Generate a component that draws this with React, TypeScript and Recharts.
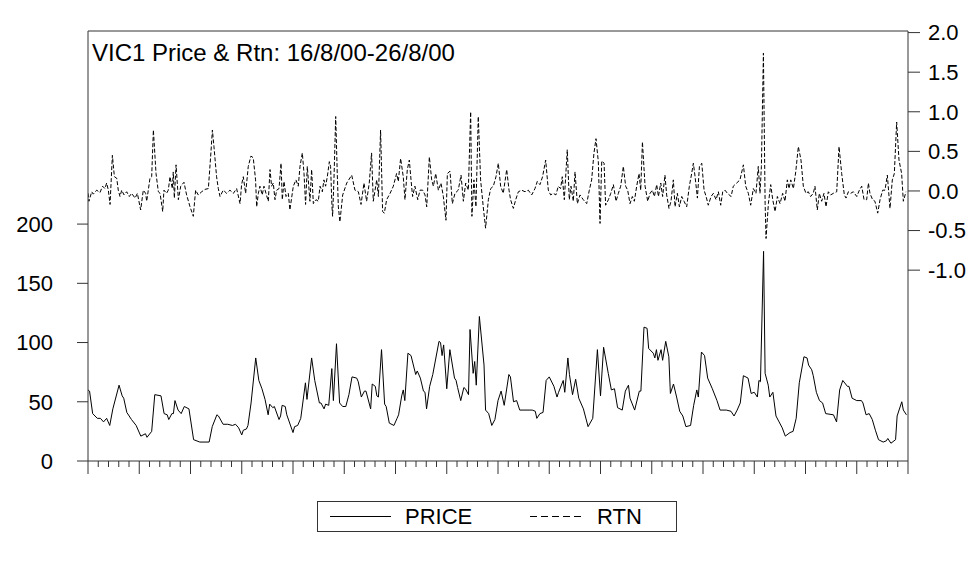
import { LineChart, Line, XAxis, YAxis, ReferenceLine } from 'recharts';

// half-hourly periods, 16/8/00 - 26/8/00
const N_PERIODS = 528;

const PRICE_T = [
  0, 1, 3, 6, 8, 10, 12, 14, 16, 20, 22, 23, 25, 28, 31, 34, 37, 38, 41, 43, 47, 49, 51, 52, 54, 55, 56, 58, 60, 62,
  65, 68, 72, 78, 80, 83, 84, 87, 90, 93, 95, 97, 99, 100, 102, 103, 105, 108, 110, 112, 114, 116, 117, 119, 120,
  123, 124, 125, 127, 128, 132, 133, 135, 137, 140, 141, 144, 146, 149, 150, 152, 153, 155, 157, 158, 160, 162, 164,
  166, 168, 170, 173, 174, 176, 178, 179, 182, 183, 185, 186, 187, 189, 191, 192, 194, 197, 199, 200, 202, 203, 204,
  206, 208, 211, 212, 214, 216, 217, 218, 220, 222, 226, 227, 228, 229, 231, 233, 236, 237, 238, 240, 242, 243, 245,
  246, 248, 249, 250, 252, 255, 256, 258, 260, 262, 264, 266, 268, 271, 272, 274, 276, 278, 284, 286, 288, 289, 291,
  293, 295, 297, 300, 302, 303, 306, 307, 309, 310, 312, 314, 316, 319, 322, 325, 328, 330, 332, 335, 337, 339, 341,
  344, 346, 348, 349, 352, 355, 356, 358, 360, 361, 364, 365, 366, 367, 369, 370, 372, 374, 375, 377, 379, 381, 383,
  385, 388, 390, 392, 393, 395, 397, 399, 402, 405, 407, 411, 414, 416, 418, 420, 422, 425, 427, 429, 431, 432, 433,
  435, 436, 438, 439, 441, 443, 445, 447, 449, 452, 454, 456, 458, 461, 463, 464, 466, 467, 469, 471, 473, 475, 480,
  482, 484, 486, 489, 490, 492, 495, 498, 499, 501, 503, 505, 507, 509, 512, 514, 515, 517, 520, 521, 524, 525, 527,
];

const PRICE = [
  60, 59, 40, 36, 36, 33, 36, 30, 44, 64, 55, 53, 41, 35, 30, 21, 23, 20, 25, 56, 55, 40, 39, 35, 40, 40, 51, 43, 40, 46,
  44, 18, 16, 16, 29, 39, 38, 31, 31, 30, 31, 28, 22, 26, 27, 30, 49, 87, 68, 61, 52, 39, 48, 45, 46,
  35, 38, 47, 46, 39, 24, 29, 30, 36, 66, 52, 87, 68, 49, 49, 44, 48, 47, 78, 51, 99, 49, 46,
  46, 56, 71, 70, 67, 54, 59, 59, 44, 65, 63, 55, 54, 94, 48, 46, 32, 30, 36, 39, 55, 60, 51,
  91, 89, 73, 76, 70, 59, 58, 44, 63, 73, 101, 100, 89, 98, 61, 94, 70, 68, 62, 51, 62, 61, 56,
  111, 74, 84, 64, 122, 81, 43, 40, 30, 35, 51, 59, 47, 73, 71, 50, 51, 43, 43, 43, 42, 36, 40,
  41, 68, 71, 63, 54, 58, 68, 58, 87, 73, 56, 69, 53, 44, 29, 36, 94, 55, 96, 74, 60, 61, 45,
  43, 59, 64, 53, 43, 59, 59, 113, 112, 95, 91, 87, 94, 85, 94, 85, 101, 88, 57, 65, 54, 42, 38,
  29, 30, 47, 60, 54, 92, 89, 70, 61, 51, 43, 43, 42, 38, 43, 49, 72, 70, 57, 58, 54, 68, 67,
  177, 74, 64, 54, 58, 38, 33, 28, 21, 24, 25, 36, 66, 88, 87, 81, 77, 72, 58, 51, 49, 40, 39,
  33, 60, 68, 63, 63, 53, 51, 51, 49, 39, 40, 35, 26, 18, 16, 17, 19, 15, 18, 38, 50, 43, 39,
];

const RTN_T = [
  0, 0.6, 2.4, 3.4, 5.6, 7.7, 9.4, 10.9, 12, 13.1, 14.2, 15.7, 17, 18.5, 19.5, 20.6, 21.7, 23.2, 24.9, 26.6, 28.1,
  30.3, 31.8, 33.9, 35.6, 37.1, 37.8, 39.9, 41, 42.1, 43.8, 45.3, 46.4, 48.1, 48.9, 50.6, 51.7, 52.8, 54.3, 54.9,
  55.6, 56.7, 58.2, 59.7, 61.8, 63.5, 65.7, 67.8, 69.3, 71, 73.2, 75.3, 77.5, 79.2, 80.1, 81.1, 82.8, 83.9, 85,
  87.1, 89.3, 91.4, 93.6, 95.7, 97.9, 98.9, 100, 101.5, 103.2, 104.9, 106.4, 107.9, 108.6, 109.7, 110.7, 112.2,
  113.3, 114.6, 116.1, 117.2, 118.2, 119.3, 120.4, 121.5, 123, 124.3, 125.1, 126.2, 127.5, 129, 130, 132.2, 133.9,
  135.4, 136.5, 138, 139.1, 140.1, 141.2, 142.9, 144, 145.1, 146.8, 148.3, 149.4, 150.9, 151.9, 153, 154.1, 155.4,
  156.2, 157.1, 157.5, 158.4, 159.5, 160.5, 161.2, 162.2, 164, 166.6, 169.8, 171.9, 174.1, 175.8, 177.7, 179.4,
  181.1, 182.6, 183.7, 185.9, 187, 188.4, 189.7, 190.8, 192.3, 194.5, 196.6, 198.7, 199.8, 201.3, 203, 204.1,
  205.6, 206.9, 208, 209, 210.5, 212.3, 213.8, 215.5, 217, 218.1, 219.8, 221.3, 222.4, 223.9, 225.6, 227.3, 228.8,
  230.5, 231.4, 233.1, 234.6, 236.3, 238.4, 240.2, 241.7, 243.2, 244.9, 246.4, 247.2, 248.5, 249.8, 251.3, 252.8,
  254.5, 256, 257.8, 259.3, 261, 262.7, 264.2, 265.7, 267.4, 269.6, 271.1, 272.1, 273.9, 275.4, 277.1, 279.2,
  281.4, 283.5, 285.7, 287.8, 289.3, 291, 292.7, 294.7, 296.4, 297.9, 299.6, 301.3, 302.8, 304.3, 305.4, 306.7,
  308.6, 309.9, 311, 312.5, 313.6, 315.1, 316.8, 318.9, 321.1, 322.8, 324.3, 325.8, 327.1, 328.6, 329.7, 330.8,
  332.3, 333.3, 335.1, 336.6, 338.3, 340, 341.5, 343, 344.7, 346.2, 347.5, 349, 350.5, 351.8, 353.3, 354.8, 355.9,
  357, 358.7, 360.4, 361.9, 363.4, 364.7, 366.2, 367.3, 368.8, 370, 371.5, 372.6, 374.1, 375.4, 376.9, 378, 379.5,
  380.8, 382.3, 383.8, 385.5, 387.2, 388.7, 389.8, 390.9, 392.4, 393.7, 395.2, 396.7, 398, 399.4, 401.2, 402.7,
  404.4, 405.9, 407.4, 408.7, 410.2, 411.7, 414.1, 415.5, 417.7, 419.8, 422, 423.5, 425.2, 426.7, 428.4, 430.1,
  431.6, 432.7, 433.6, 434.9, 436, 436.6, 438.1, 439.6, 440.9, 442.4, 443.9, 445.6, 447.3, 448.8, 450.3, 451.4,
  452.5, 454.2, 455.7, 457.4, 459.1, 460.6, 462.3, 463.8, 465.3, 467, 468.1, 469.6, 470.9, 472.4, 473.9, 475.2,
  476.7, 478.2, 479.9, 482.1, 483.6, 485.3, 487, 488.1, 489.6, 491.1, 492.8, 495, 496.7, 498.2, 499.7, 501.4,
  502.5, 503.5, 505.2, 506.7, 508.5, 510, 511.7, 513.2, 514.7, 516.4, 517.9, 519.2, 520.7, 522.2, 523.9, 525, 526.7,
];

const RTN = [
  -0.03, -0.13, -0.01, -0.04, 0.01, -0.02, 0.06, 0.03, 0.1, 0.01, -0.17, 0.45, 0.18, 0.16, 0.01, -0.07, 0.01, -0.05,
  -0.01, -0.07, -0.03, -0.09, -0.03, -0.24, 0.01, -0.03, -0.13, 0.16, 0.18, 0.77, 0.22, -0.01, -0.03, -0.26, 0.01,
  -0.03, 0.01, 0.18, 0.03, 0.24, -0.09, 0.33, -0.11, 0.06, 0.11, -0.05, -0.2, -0.32, 0.01, -0.05, -0.01, 0.02, 0.03,
  0.5, 0.77, 0.56, 0.18, 0.03, -0.07, 0.01, -0.03, 0.01, -0.03, 0.03, -0.16, 0.08, 0.18, -0.03, 0.31, 0.44, 0.42,
  0.14, -0.2, -0.03, 0.06, -0.05, 0.06, -0.03, -0.13, 0.27, 0.06, 0.1, -0.11, 0.01, 0.03, 0.35, -0.11, 0.12, -0.07,
  -0.03, -0.24, 0.06, 0.14, 0.06, 0.31, 0.48, 0.22, -0.17, 0.31, -0.13, 0.27, -0.16, -0.11, -0.13, 0.06, -0.01, 0.14,
  0.06, 0.18, 0.37, 0.31, -0.2, -0.32, 0.16, 0.94, 0.22, -0.2, -0.39, -0.05, 0.1, 0.2, 0.01, -0.01, -0.17, 0.1,
  -0.13, 0.1, 0.48, -0.13, 0.14, -0.07, 0.77, -0.26, -0.28, -0.11, -0.03, 0.06, 0.22, 0.12, 0.41, 0.18, -0.11, 0.27,
  0.39, 0.14, -0.07, 0.06, -0.11, 0.01, 0.01, -0.05, -0.2, 0.43, 0.14, 0.06, 0.22, 0.01, 0.1, -0.07, -0.37, 0.22,
  0.25, -0.16, -0.03, 0.01, 0.2, -0.13, 0.1, 0.01, 1.0, -0.32, 0.14, -0.2, 0.94, 0.14, -0.2, -0.47, -0.11, 0.03,
  0.06, 0.18, 0.35, 0.06, -0.03, 0.27, 0.01, -0.11, -0.22, -0.11, -0.01, 0.01, -0.01, 0.01, -0.05, 0.03, 0.12, 0.08,
  0.18, 0.39, 0.01, -0.05, -0.03, -0.05, 0.06, 0.03, 0.18, -0.11, 0.52, -0.11, 0.06, -0.13, 0.24, -0.16, -0.05,
  -0.11, -0.16, 0.01, 0.14, 0.48, 0.66, 0.37, -0.41, 0.38, 0.35, -0.18, -0.11, -0.03, 0.08, -0.13, -0.03, 0.06,
  0.31, 0.06, 0.01, -0.16, -0.07, -0.13, 0.06, 0.22, 0.01, 0.62, 0.06, -0.13, -0.03, 0.01, -0.07, 0.08, -0.07, 0.1,
  -0.07, 0.2, -0.05, -0.22, -0.13, 0.14, -0.2, -0.03, -0.2, -0.07, -0.13, -0.2, 0.06, 0.22, 0.35, 0.18, -0.09, 0.31,
  0.35, 0.01, -0.07, -0.18, -0.07, -0.03, -0.11, -0.01, -0.18, -0.01, 0.01, -0.03, -0.07, 0.06, 0.1, 0.14, 0.33,
  0.06, -0.03, -0.18, 0.03, -0.03, 0.31, -0.03, 0.31, 1.74, -0.16, -0.6, -0.16, 0.08, -0.11, -0.26, -0.07, -0.16,
  -0.03, -0.13, 0.14, 0.03, 0.14, 0.03, 0.24, 0.56, 0.39, 0.06, -0.03, -0.01, -0.07, -0.03, 0.06, -0.24, -0.03,
  -0.13, -0.03, -0.2, -0.01, -0.05, -0.03, -0.01, 0.56, 0.22, -0.05, -0.09, -0.01, -0.03, -0.01, -0.07, 0.01, 0.06,
  -0.11, -0.11, 0.1, -0.03, -0.11, -0.13, -0.28, -0.11, 0.01, 0.01, 0.2, -0.22, 0.14, 0.22, 0.87, 0.39, 0.22, -0.13,
  -0.01,
];

const LEFT_TICKS = [0, 50, 100, 150, 200];
const RIGHT_TICKS = [-1, -0.5, 0, 0.5, 1, 1.5, 2];
// 80 minor intervals on the date axis, every 5th one is a long tick
const X_TICKS = Array.from({ length: 81 }, (_, i) => (i * N_PERIODS) / 80);

const priceData = PRICE_T.map((t, i) => ({ t, price: PRICE[i] }));
const rtnData = RTN_T.map((t, i) => ({ t, rtn: RTN[i] }));

const FONT = '"Liberation Sans", Arial, Helvetica, sans-serif';
const AXIS = '#333333';

function DateTick(props: any) {
  const { x, y, index } = props;
  const len = index % 5 === 0 ? 13 : 6;
  return <line x1={x} x2={x} y1={y} y2={y + len} stroke={AXIS} strokeWidth={1} />;
}

export default function App() {
  const tickStyle = { fill: '#000', fontSize: 22, fontFamily: FONT };

  return (
    <div style={{ position: 'absolute', left: 0, top: 0, width: 976, height: 563, background: '#fff' }}>
      <LineChart width={976} height={563} margin={{ top: 31, right: 0, bottom: 0, left: 0 }}>
        <XAxis
          type="number"
          dataKey="t"
          domain={[0, N_PERIODS]}
          ticks={X_TICKS}
          interval={0}
          tickLine={false}
          tickSize={0}
          tickMargin={0}
          tick={(p: any) => <DateTick {...p} />}
          height={102}
          stroke={AXIS}
          allowDataOverflow
        />
        <YAxis
          yAxisId="left"
          domain={[0, 363]}
          ticks={LEFT_TICKS}
          width={88}
          tickSize={11}
          tickMargin={24}
          stroke={AXIS}
          tick={tickStyle}
          allowDataOverflow
        />
        <YAxis
          yAxisId="right"
          orientation="right"
          domain={[-3.41, 2.02]}
          ticks={RIGHT_TICKS}
          width={68}
          tickSize={12}
          tickMargin={8}
          stroke={AXIS}
          tick={tickStyle}
          tickFormatter={(v: number) => v.toFixed(1)}
          allowDataOverflow
        />
        <ReferenceLine yAxisId="left" y={363} stroke={AXIS} />
        <Line
          yAxisId="left"
          data={priceData}
          dataKey="price"
          type="linear"
          stroke="#000"
          strokeWidth={1}
          dot={false}
          activeDot={false}
          isAnimationActive={false}
        />
        <Line
          yAxisId="right"
          data={rtnData}
          dataKey="rtn"
          type="linear"
          stroke="#000"
          strokeWidth={1}
          strokeDasharray="4 2"
          dot={false}
          activeDot={false}
          isAnimationActive={false}
        />
      </LineChart>

      <div
        style={{
          position: 'absolute',
          left: 92,
          top: 41,
          fontFamily: FONT,
          fontSize: 24,
          lineHeight: '23px',
          color: '#000',
          whiteSpace: 'nowrap',
        }}
      >
        VIC1 Price &amp; Rtn: 16/8/00-26/8/00
      </div>

      <svg width={360} height={31} style={{ position: 'absolute', left: 317, top: 501 }}>
        <rect x={0.5} y={0.5} width={359} height={30} fill="#fff" stroke={AXIS} />
        <line x1={13} x2={74} y1={15.5} y2={15.5} stroke="#000" />
        <text x={88} y={23} fontFamily={FONT} fontSize={22} fill="#000">
          PRICE
        </text>
        <line x1={213} x2={266} y1={15.5} y2={15.5} stroke="#000" strokeDasharray="7 4" />
        <text x={280} y={23} fontFamily={FONT} fontSize={22} fill="#000">
          RTN
        </text>
      </svg>
    </div>
  );
}
